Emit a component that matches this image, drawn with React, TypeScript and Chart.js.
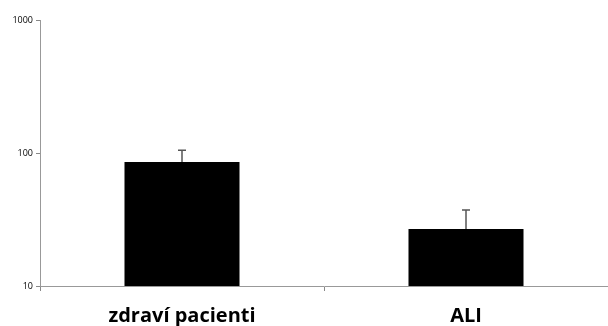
import React, { useEffect, useRef } from "react";
import { Chart, registerables } from "chart.js";

Chart.register(...registerables);

const categories = ["zdraví pacienti", "ALI"];
const means = [85.5, 26.8];
const upperErrors = [105, 37.3];
const yTicks = [10, 100, 1000];

const errorBarPlugin = {
  id: "errorBars",
  afterDatasetsDraw(chart: any) {
    const ctx = chart.ctx;
    const meta = chart.getDatasetMeta(0);
    const y = chart.scales.y;
    ctx.save();
    ctx.strokeStyle = "#555";
    ctx.lineWidth = 1.5;
    meta.data.forEach((bar: any, i: number) => {
      const top = y.getPixelForValue(upperErrors[i]);
      const base = y.getPixelForValue(means[i]);
      ctx.beginPath();
      ctx.moveTo(bar.x, base);
      ctx.lineTo(bar.x, top);
      ctx.moveTo(bar.x - 4, top);
      ctx.lineTo(bar.x + 4, top);
      ctx.stroke();
    });
    ctx.restore();
  },
};

export default function App() {
  const ref = useRef<HTMLCanvasElement>(null);
  useEffect(() => {
    if (!ref.current) return;
    const chart = new Chart(ref.current, {
      type: "bar",
      data: {
        labels: categories,
        datasets: [
          {
            data: means,
            backgroundColor: "#000",
            borderWidth: 0,
            barPercentage: 0.405,
            categoryPercentage: 1,
          },
        ],
      },
      options: {
        animation: false,
        responsive: false,
        layout: { padding: { top: 20, right: 0, left: 0, bottom: 0 } },
        plugins: { legend: { display: false }, tooltip: { enabled: false } },
        scales: {
          x: {
            offset: true,
            grid: {
              offset: true,
              drawOnChartArea: false,
              drawTicks: true,
              tickLength: 5,
              color: "#888",
            },
            border: { color: "#999", width: 1 },
            ticks: {
              color: "#000",
              padding: 13,
              font: { family: "Open Sans", weight: "bold", size: 20 },
            },
            afterFit(scale: any) {
              scale.height = 40;
            },
          },
          y: {
            type: "logarithmic",
            min: 10,
            max: 1000,
            afterBuildTicks(scale: any) {
              scale.ticks = yTicks.map((v) => ({ value: v }));
            },
            grid: {
              drawOnChartArea: false,
              drawTicks: true,
              tickLength: 4,
              color: "#888",
            },
            border: { color: "#999", width: 1 },
            ticks: {
              color: "#000",
              padding: 3,
              font: { family: "Open Sans", size: 9 },
              callback: (v: any) => String(v),
            },
            afterFit(scale: any) {
              scale.width = 40;
            },
          },
        },
      },
      plugins: [errorBarPlugin],
    });
    return () => chart.destroy();
  }, []);
  return (
    <div style={{ position: "fixed", left: 0, top: 0, width: 608, height: 326, background: "#fff" }}>
      <canvas ref={ref} width={608} height={326} />
    </div>
  );
}
